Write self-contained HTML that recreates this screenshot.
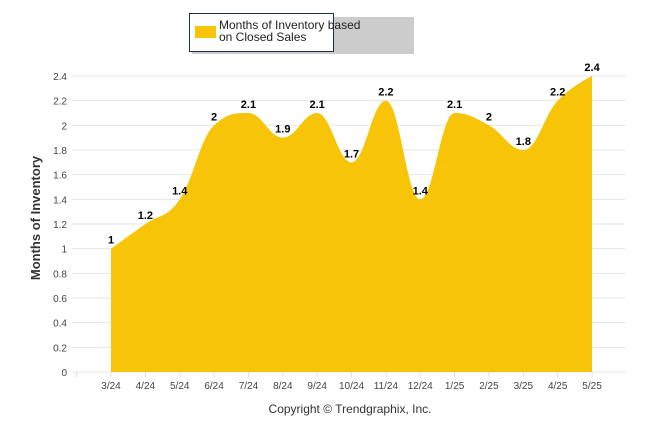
<!DOCTYPE html>
<html><head><meta charset="utf-8"><style>
body{margin:0;background:#fff;font-family:"Liberation Sans",sans-serif}
</style></head><body>
<svg id="c" width="646" height="434" xmlns="http://www.w3.org/2000/svg" font-family="Liberation Sans, sans-serif">
<g>
<rect x="190" y="15" width="222" height="37" fill="#999" opacity="0.5" transform="translate(2,2)"/>
<rect x="189" y="14" width="144" height="37" fill="#fff" stroke="#1f2d4a" stroke-width="1" transform="translate(0,0)" style="display:none"/>
<rect x="189.5" y="13.5" width="144" height="38" fill="#fff" stroke="#1f2d4a"/>
<rect x="195" y="26" width="21" height="12" fill="#F7C408"/>
<text x="219" y="29" font-size="12" fill="#222"><tspan x="219">Months of Inventory based</tspan><tspan x="219" dy="12">on Closed Sales</tspan></text>
</g>
<g id="grid"></g>
<g id="plot"></g>
<text x="40" y="218" font-size="13" font-weight="bold" fill="#333" text-anchor="middle" transform="rotate(-90 40 218)">Months of Inventory</text>
<text x="350" y="413" font-size="12" fill="#333" text-anchor="middle">Copyright © Trendgraphix, Inc.</text>
</svg>
<script>
const categories=["3/24","4/24","5/24","6/24","7/24","8/24","9/24","10/24","11/24","12/24","1/25","2/25","3/25","4/25","5/25"];
const values=[1,1.2,1.4,2,2.1,1.9,2.1,1.7,2.2,1.4,2.1,2,1.8,2.2,2.4];
const yTicks=[0,0.2,0.4,0.6,0.8,1,1.2,1.4,1.6,1.8,2,2.2,2.4];
const NS="http://www.w3.org/2000/svg";
const X0=111,DX=34.36,Y0=372,YMAX=2.4,YTOP=76;
const x=i=>X0+i*DX, y=v=>Y0-(v/YMAX)*(Y0-YTOP);
const grid=document.getElementById('grid'),plot=document.getElementById('plot');
function mk(t,a,p){const e=document.createElementNS(NS,t);for(const k in a)e.setAttribute(k,a[k]);p.appendChild(e);return e;}
yTicks.forEach(v=>{
 const l=mk('line',{x1:72,x2:625,y1:y(v),y2:y(v),stroke:'#e6e6e6'},grid);
 
 
 const t=mk('text',{x:67,y:y(v)+4,'font-size':10,fill:'#444','text-anchor':'end'},grid);
 t.textContent=String(v);
 
 
});
for(let i=-1;i<categories.length;i++){
 const tk=mk('line',{x1:x(i),x2:x(i),y1:Y0,y2:Y0+5,stroke:'#ddd'},grid);
 
 
}
categories.forEach((c,i)=>{
 const t=mk('text',{x:x(i),y:389,'font-size':10,fill:'#444','text-anchor':'middle'},grid);
 t.textContent=c;
 
 
});
// Highcharts-like spline
const pts=values.map((v,i)=>[x(i),y(v)]);
const sm=1.5,den=sm+1;
let d='M'+pts[0][0]+','+pts[0][1];
function ctrl(i){
 const p=pts[i],a=pts[i-1],b=pts[i+1];
 if(!a||!b)return null;
 let lx=(sm*p[0]+a[0])/den,ly=(sm*p[1]+a[1])/den,rx=(sm*p[0]+b[0])/den,ry=(sm*p[1]+b[1])/den;
 let corr=0;
 if(rx!==lx){corr=((ry-ly)*(rx-p[0]))/(rx-lx)+p[1]-ry;}
 ly+=corr;ry+=corr;
 if(ly>a[1]&&ly>p[1]){ly=Math.max(a[1],p[1]);ry=2*p[1]-ly;}else if(ly<a[1]&&ly<p[1]){ly=Math.min(a[1],p[1]);ry=2*p[1]-ly;}
 if(ry>b[1]&&ry>p[1]){ry=Math.max(b[1],p[1]);ly=2*p[1]-ry;}else if(ry<b[1]&&ry<p[1]){ry=Math.min(b[1],p[1]);ly=2*p[1]-ry;}
 return {l:[lx,ly],r:[rx,ry]};
}
for(let i=1;i<pts.length;i++){
 const c0=ctrl(i-1),c1=ctrl(i);
 const r=c0?c0.r:pts[i-1],l=c1?c1.l:pts[i];
 d+=' C'+r[0]+','+r[1]+' '+l[0]+','+l[1]+' '+pts[i][0]+','+pts[i][1];
}
const area=mk('path',{d:d+' L'+pts[pts.length-1][0]+','+Y0+' L'+pts[0][0]+','+Y0+' Z',fill:'#F7C408'},plot);


values.forEach((v,i)=>{
 const t=mk('text',{x:x(i),y:y(v)-5,'font-size':11,'font-weight':'bold',fill:'#000','text-anchor':'middle'},plot);
 t.textContent=String(v);
 
 
});
</script>
</body></html>
